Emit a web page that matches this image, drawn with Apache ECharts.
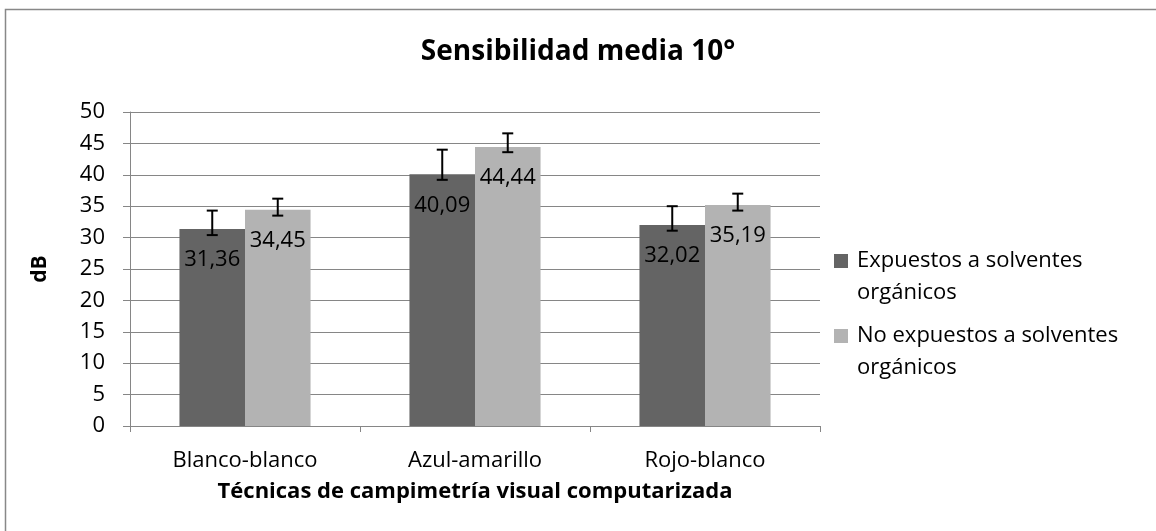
<!DOCTYPE html>
<html>
<head>
<meta charset="utf-8">
<script src="https://cdn.jsdelivr.net/npm/echarts@6/dist/echarts.min.js"></script>
<style>
html,body{margin:0;padding:0;background:#fff;}
#chart{width:1156px;height:531px;}
</style>
</head>
<body>
<div id="chart"></div>
<script>
const titleText = 'Sensibilidad media 10°';
const categories = ['Blanco-blanco', 'Azul-amarillo', 'Rojo-blanco'];
const seriesNames = ['Expuestos a solventes\norgánicos', 'No expuestos a solventes\norgánicos'];
const expuestos = [31.36, 40.09, 32.02];
const noExpuestos = [34.45, 44.44, 35.19];
const expuestosLow = [30.4, 39.2, 31.1];
const expuestosHigh = [34.3, 44.0, 35.0];
const noExpuestosLow = [33.5, 43.6, 34.3];
const noExpuestosHigh = [36.2, 46.6, 37.0];
const yTicks = [0, 5, 10, 15, 20, 25, 30, 35, 40, 45, 50];
const yAxisName = 'dB';
const xAxisName = 'Técnicas de campimetría visual computarizada';

const FONT = '"Open Sans", sans-serif';
const colors = ['#646464', '#b3b3b3'];

function errData(low, high) {
  return categories.map((c, i) => [i, low[i], high[i]]);
}
function errRender(sign) {
  return function (params, api) {
    const idx = api.value(0);
    const band = api.size([1, 0])[0];
    const cx = api.coord([idx, 0])[0] + sign * band * 0.1424;
    const yl = api.coord([idx, api.value(1)])[1];
    const yh = api.coord([idx, api.value(2)])[1];
    const cap = 5.5;
    const st = { stroke: '#000', lineWidth: 2 };
    return {
      type: 'group',
      children: [
        { type: 'line', shape: { x1: cx, y1: yl, x2: cx, y2: yh }, style: st },
        { type: 'line', shape: { x1: cx - cap, y1: yl, x2: cx + cap, y2: yl }, style: st },
        { type: 'line', shape: { x1: cx - cap, y1: yh, x2: cx + cap, y2: yh }, style: st }
      ]
    };
  };
}

const labelOpt = {
  show: true,
  position: 'insideTop',
  distance: 20,
  color: '#000',
  fontFamily: FONT,
  fontSize: 22,
  formatter: p => String(p.value.toFixed(2)).replace('.', ',')
};

const chart = echarts.init(document.getElementById('chart'), null, { renderer: 'canvas' });
chart.setOption({
  animation: false,
  backgroundColor: '#fff',
  graphic: [{
    type: 'rect',
    shape: { x: 5.5, y: 9.5, width: 1300, height: 700 },
    style: { fill: 'none', stroke: '#888', lineWidth: 1.5 },
    silent: true, z: -10
  }],
  title: {
    text: titleText,
    left: 'center',
    top: 33,
    textStyle: { fontFamily: FONT, fontSize: 28, fontWeight: 'bold', color: '#000' }
  },
  legend: {
    orient: 'vertical',
    left: 834,
    top: 245,
    padding: 0,
    data: seriesNames,
    icon: 'path://M0,0L14,0L14,14L0,14Z M0,46L0.001,46',
    itemWidth: 14,
    itemHeight: 46,
    itemGap: 11,
    textStyle: { fontFamily: FONT, fontSize: 22, color: '#000', lineHeight: 32, padding: [0, 0, 0, 4] }
  },
  grid: { left: 130, right: 336, top: 112, bottom: 105 },
  xAxis: {
    type: 'category',
    data: categories,
    name: xAxisName,
    nameLocation: 'middle',
    nameGap: 55,
    nameTextStyle: { fontFamily: FONT, fontSize: 22, fontWeight: 'bold', color: '#000' },
    axisLine: { lineStyle: { color: '#868686', width: 1 } },
    axisTick: { show: true, length: 6, lineStyle: { color: '#868686' } },
    axisLabel: { fontFamily: FONT, fontSize: 22, color: '#000', margin: 24 },
    splitLine: { show: false }
  },
  yAxis: {
    type: 'value',
    min: 0,
    max: 50,
    interval: 5,
    name: yAxisName,
    nameLocation: 'middle',
    nameGap: 79,
    nameRotate: 90,
    nameTextStyle: { fontFamily: FONT, fontSize: 21, fontWeight: 'bold', color: '#000' },
    axisLine: { show: true, lineStyle: { color: '#868686', width: 1 } },
    axisTick: { show: true, length: 7, lineStyle: { color: '#868686' } },
    axisLabel: { fontFamily: FONT, fontSize: 22, color: '#000', margin: 25,
      formatter: v => yTicks.includes(v) ? String(v) : '' },
    splitLine: { show: true, lineStyle: { color: '#868686', width: 1 } }
  },
  series: [
    { name: seriesNames[0], type: 'bar', data: expuestos, itemStyle: { color: colors[0] },
      barGap: '0%', barCategoryGap: '43%', label: labelOpt, z: 2 },
    { name: seriesNames[1], type: 'bar', data: noExpuestos, itemStyle: { color: colors[1] },
      barGap: '0%', barCategoryGap: '43%', label: labelOpt, z: 2 },
    { name: 'err1', type: 'custom', renderItem: errRender(-1), data: errData(expuestosLow, expuestosHigh), z: 5, silent: true },
    { name: 'err2', type: 'custom', renderItem: errRender(1), data: errData(noExpuestosLow, noExpuestosHigh), z: 5, silent: true }
  ]
});
</script>
</body>
</html>
